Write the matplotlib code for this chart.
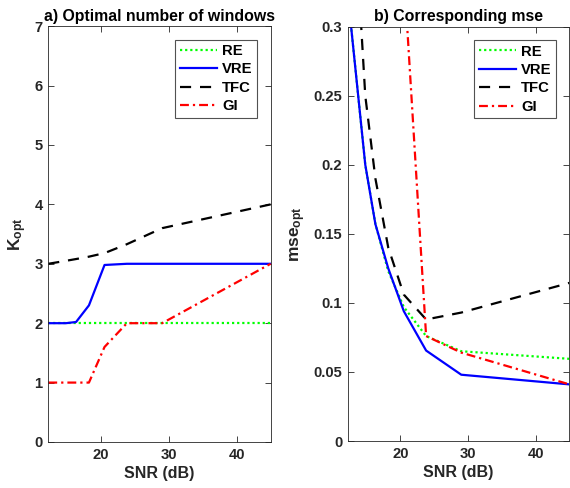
import matplotlib
matplotlib.use("Agg")
import matplotlib.pyplot as plt

plt.rcParams['font.family'] = ['Liberation Sans', 'DejaVu Sans']
plt.rcParams['font.weight'] = 'bold'
plt.rcParams['mathtext.fontset'] = 'custom'
plt.rcParams['mathtext.rm'] = 'Liberation Sans:bold'
plt.rcParams['mathtext.bf'] = 'Liberation Sans:bold'
plt.rcParams['mathtext.it'] = 'Liberation Sans:bold'
plt.rcParams['mathtext.default'] = 'bf'

# ---- data ----
snr = [12.2, 14.8, 16.3, 18.2, 20.5, 23.8, 29.0, 45.0]

k_re = [2, 2, 2, 2, 2, 2, 2, 2]
k_vre = [2, 2, 2.02, 2.3, 2.98, 3, 3, 3]
k_tfc = [3.0, 3.05, 3.08, 3.12, 3.18, 3.33, 3.6, 4.0]
k_gi = [1, 1, 1, 1, 1.6, 2, 2, 3]

mse_re = [0.324, 0.2, 0.157, 0.123, 0.097, 0.076, 0.065, 0.0595]
mse_vre = [0.324, 0.2, 0.157, 0.125, 0.094, 0.0655, 0.048, 0.041]
mse_tfc = [0.466, 0.25, 0.19, 0.14, 0.106, 0.088, 0.093, 0.1145]
mse_gi = [1.0, 0.9, 0.8, 0.6, 0.34, 0.076, 0.064, 0.041]

labels = ['RE', 'VRE', 'TFC', 'GI']
xticks = [20, 30, 40]
k_yticks = [0, 1, 2, 3, 4, 5, 6, 7]
mse_yticks = [0, 0.05, 0.1, 0.15, 0.2, 0.25, 0.3]
mse_yticklabels = ['0', '0.05', '0.1', '0.15', '0.2', '0.25', '0.3']

styles = [
    dict(color=(0, 1, 0), linestyle=(0, (1, 1.3)), linewidth=1.6),
    dict(color=(0, 0, 1), linestyle='-', linewidth=1.6),
    dict(color='black', linestyle=(0, (5, 4)), linewidth=1.6),
    dict(color=(1, 0, 0), linestyle=(0, (4, 1.8, 1, 1.8)), linewidth=1.6),
]

fig = plt.figure(figsize=(5.70, 4.88), dpi=100)
ax1 = fig.add_axes([0.0847, 0.0943, 0.390, 0.852])
ax2 = fig.add_axes([0.610, 0.0963, 0.389, 0.849])

axc = '#262626'
for ax, series in ((ax1, [k_re, k_vre, k_tfc, k_gi]),
                   (ax2, [mse_re, mse_vre, mse_tfc, mse_gi])):
    for ys, st, lab in zip(series, styles, labels):
        ax.plot(snr, ys, label=lab, **st)
    ax.set_xlim(snr[0], snr[-1])
    ax.set_xticks(xticks)
    ax.tick_params(direction='in', top=True, right=True, length=4,
                   width=0.6, colors=axc, labelsize=10.6, pad=4)
    for sp in ax.spines.values():
        sp.set_color(axc)
        sp.set_linewidth(0.6)
    for t in ax.get_xticklabels() + ax.get_yticklabels():
        t.set_fontweight('bold')
    ax.set_xlabel('SNR (dB)', fontsize=11.5, fontweight='bold', color=axc, labelpad=3)
    leg = ax.legend(loc='upper right', fontsize=10.7, frameon=True, fancybox=False,
                    edgecolor=axc, handlelength=2.5, handletextpad=0.35,
                    borderpad=0.3, labelspacing=0.3, borderaxespad=0.9)
    leg.get_frame().set_linewidth(0.8)
    for t in leg.get_texts():
        t.set_fontweight('bold')

ax1.set_ylim(0, 7)
ax1.set_yticks(k_yticks)
ax1.set_ylabel(r'$\mathbf{K_{opt}}$', fontsize=12.5, color=axc, labelpad=4)
ax1.set_title('a) Optimal number of windows', fontsize=11.4, fontweight='bold', pad=4)

ax2.set_ylim(0, 0.3)
ax2.set_yticks(mse_yticks)
ax2.set_yticklabels(mse_yticklabels)
for t in ax2.get_yticklabels():
    t.set_fontweight('bold')
ax2.set_ylabel(r'$\mathbf{mse_{opt}}$', fontsize=12.5, color=axc, labelpad=4)
ax2.set_title('b) Corresponding mse', fontsize=11.4, fontweight='bold', pad=4)

fig.savefig('out.png', dpi=100)
